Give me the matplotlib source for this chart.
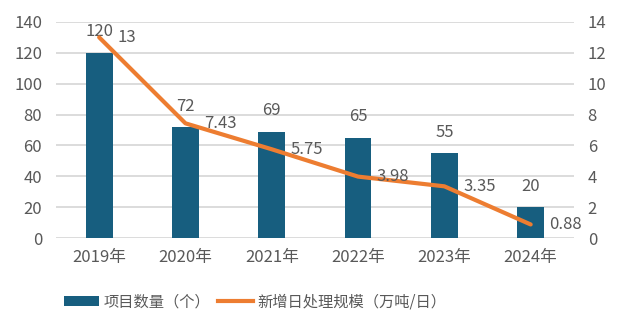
import matplotlib
matplotlib.use("Agg")
import matplotlib.pyplot as plt
from matplotlib.patches import Patch
from matplotlib.lines import Line2D

plt.rcParams['font.family'] = ['Noto Sans CJK SC', 'DejaVu Sans']

years = ["2019年", "2020年", "2021年", "2022年", "2023年", "2024年"]
project_counts = [120, 72, 69, 65, 55, 20]
daily_capacity = [13, 7.43, 5.75, 3.98, 3.35, 0.88]
capacity_labels = ["13", "7.43", "5.75", "3.98", "3.35", "0.88"]

bar_color = "#175E7F"
line_color = "#ED7D31"
text_color = "#595959"
grid_color = "#D9D9D9"
font_size = 12

fig = plt.figure(figsize=(6.19, 3.32), dpi=100)
ax = fig.add_axes([0.0905, 0.283, 0.8365, 0.651])
ax2 = ax.twinx()

x = list(range(len(years)))

# Project counts as bars on the left axis
ax.bar(x, project_counts, width=0.31, color=bar_color, zorder=2)
ax.set_ylim(0, 140)
ax.set_yticks(range(0, 141, 20))
ax.set_xlim(-0.5, len(years) - 0.5)
ax.set_xticks(x)
ax.set_xticklabels(years)
ax.yaxis.grid(True, color=grid_color, linewidth=1.3)
ax.set_axisbelow(True)

for xi, v in zip(x, project_counts):
    ax.annotate(str(v), (xi, v), xytext=(0, 15), textcoords="offset points",
                ha="center", va="center", fontsize=font_size, color=text_color)

# Daily capacity as a line on the right axis
ax2.plot(x, daily_capacity, color=line_color, linewidth=3, solid_capstyle="round", zorder=3)
ax2.set_ylim(0, 14)
ax2.set_yticks(range(0, 15, 2))

for xi, v, lab in zip(x, daily_capacity, capacity_labels):
    ax2.annotate(lab, (xi, v), xytext=(13.5, 0), textcoords="offset points",
                 ha="left", va="center", fontsize=font_size, color=text_color)

for a in (ax, ax2):
    for s in a.spines.values():
        s.set_visible(False)
    a.tick_params(length=0, labelsize=font_size, labelcolor=text_color)
ax.tick_params(axis="y", pad=10)
ax.tick_params(axis="x", pad=8)
ax2.tick_params(axis="y", pad=10)

handles = [
    Patch(facecolor=bar_color, edgecolor="none"),
    Line2D([0], [0], color=line_color, linewidth=3),
]
labels = ["项目数量（个）", "新增日处理规模（万吨/日）"]
leg = fig.legend(handles, labels, loc="center", bbox_to_anchor=(0.412, 0.09), ncol=2,
                 frameon=False, fontsize=11, handlelength=2.3, handleheight=0.65,
                 handletextpad=0.3, columnspacing=0.5)
for t in leg.get_texts():
    t.set_color(text_color)

fig.savefig("out.png", dpi=100)
